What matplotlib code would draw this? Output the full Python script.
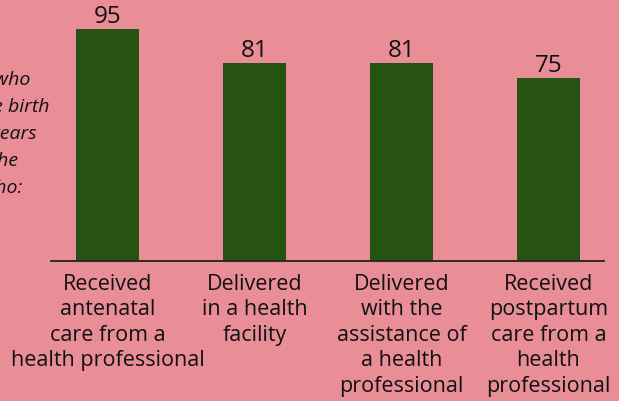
import numpy as np
import matplotlib.pyplot as plt

categories = ["Received\nantenatal\ncare from a\nhealth professional",
              "Delivered\nin a health\nfacility",
              "Delivered\nwith the\nassistance of\na health\nprofessional",
              "Received\npostpartum\ncare from a\nhealth\nprofessional"]
values = [95, 81, 81, 75]
side_lines = ["Percentage of women who", "gave birth", "in the past five years",
              "before the", "survey who:"]

bg = "#E98D97"
green = "#265314"

fig = plt.figure(figsize=(6.19, 4.02), dpi=100, facecolor=bg)
ax = fig.add_axes([51/619, 140/402, 553/619, 262/402])
ax.set_facecolor(bg)

x = np.arange(len(values))
bars = ax.bar(x, values, width=0.43, color=green)
ax.set_xlim(-0.385, 3.379)
ax.set_ylim(0, 107.3)

for b, v in zip(bars, values):
    ax.text(b.get_x() + b.get_width()/2, v + 0.4, str(v), ha="center", va="bottom",
            fontsize=17.5, family="Open Sans", color="#111111")

for xi, lab in zip(x, categories):
    ax.text(xi, -4.8, lab, ha="center", va="top", fontsize=15.5, family="Open Sans",
            color="#111111", linespacing=1.28, clip_on=False)

for s in ["top", "left", "right"]:
    ax.spines[s].set_visible(False)
ax.spines["bottom"].set_linewidth(1.3)
ax.spines["bottom"].set_color("#222222")
ax.set_xticks([])
ax.set_yticks([])

# side note, cut off at the left edge as in the original
ends = [30, 50, 37, 18, 22]
ys = [80, 107, 134, 161, 188]
for line, xe, yp in zip(side_lines, ends, ys):
    fig.text(xe/619, 1 - yp/402, line, ha="right", va="center", fontsize=14,
             family="Open Sans", style="italic", color="#111111")

fig.savefig("out.png", dpi=100, facecolor=bg)
